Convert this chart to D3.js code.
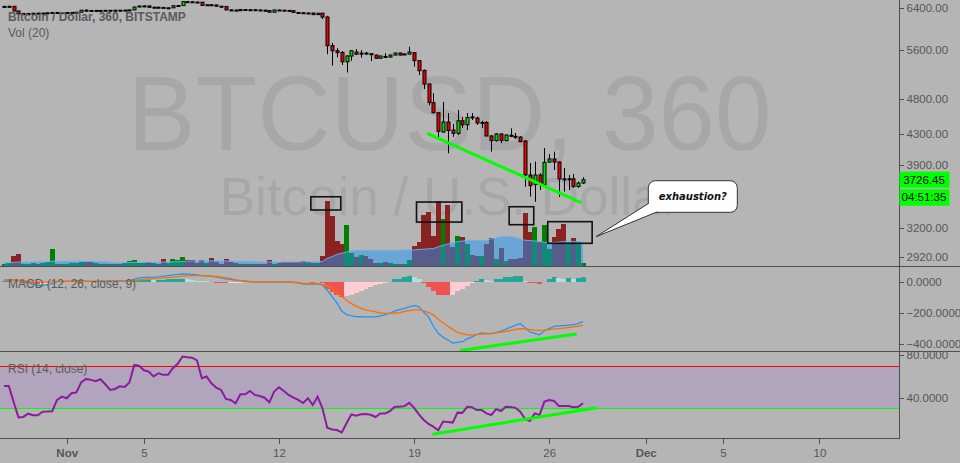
<!DOCTYPE html>
<html><head><meta charset="utf-8">
<script src="https://cdn.jsdelivr.net/npm/d3@7"></script>
<style>html,body{margin:0;padding:0;background:#b5b5b5;overflow:hidden}svg{display:block}</style>
</head><body><svg id="c" width="960" height="463"></svg>
<script>
// ---------------- DATA ----------------
const firstBar = Date.UTC(2018, 9, 28, 18); // first 6h candle (UTC)
const barHours = 6;
const opens = [6420,6425,6428,6334,6278,6282,6284,6290,6286,6292, 6298,6305,6300,6302,6304,6306,6310,6350,6345,6342,
 6346,6344,6348,6346,6350,6348,6352,6356,6414,6434, 6436,6408,6410,6406,6394,6398,6440,6444,6523,6520,
 6515,6512,6445,6460,6455,6430,6425,6356,6352,6340, 6364,6358,6360,6355,6350,6344,6310,6354,6350,6346,
 6340,6305,6300,6290,6294,6262,6290,
 6215,5680,5590,5560,5400,5498,5568,5540,5550,5538, 5515,5460,5490,5480,5515,5550,5530,5533,5555,5420,
 5255,5035,4748,4600,4330,4468,4357,4312,4485,4430, 4540,4524,4455,4460,4276,4213,4303,4213,4285,4272,
 4262,4209,3782,3670,3782,3670,3940,3978,3940,3737, 3733,3737,3648,3688];
const highs = [6440,6440,6432,6340,6290,6290,6295,6296,6298,6300, 6310,6310,6308,6310,6312,6316,6355,6370,6355,6350,
 6352,6352,6354,6352,6356,6356,6362,6420,6445,6445, 6440,6416,6418,6412,6405,6445,6450,6530,6535,6530,
 6522,6518,6470,6466,6460,6438,6430,6365,6360,6368, 6370,6365,6366,6362,6358,6350,6360,6362,6360,6352,
 6345,6312,6310,6300,6298,6295,6296,
 6240,5730,5635,5585,5515,5600,5620,5600,5568,5545, 5520,5505,5548,5520,5555,5555,5545,5660,5568,5430,
 5270,5040,4890,4605,4758,4596,4440,4640,4540,4596, 4596,4545,4485,4480,4289,4316,4310,4295,4380,4316,
 4276,4222,3928,3945,3805,4117,4040,4070,3948,3865, 3782,3795,3705,3755];
const lows = [6410,6415,6330,6270,6270,6272,6278,6282,6280,6285, 6290,6296,6294,6296,6298,6300,6305,6340,6335,6334,
 6336,6338,6340,6338,6342,6340,6345,6350,6410,6425, 6400,6400,6400,6390,6388,6392,6432,6440,6515,6510,
 6508,6440,6440,6450,6425,6420,6350,6345,6330,6335, 6350,6348,6350,6345,6340,6305,6305,6345,6342,6335,
 6300,6295,6284,6280,6255,6255,6175,
 5530,5335,5475,5345,5220,5415,5515,5470,5515,5412, 5450,5450,5475,5470,5510,5510,5525,5520,5320,5179,
 4956,4710,4590,4250,4320,4050,4265,4289,4385,4357, 4496,4426,4385,4270,4070,4200,4180,4205,4260,4236,
 4192,3645,3535,3476,3608,3665,3928,3842,3529,3590, 3608,3632,3632,3677];
const closes = [6425,6428,6334,6278,6282,6284,6290,6286,6292,6298, 6305,6300,6302,6304,6306,6310,6350,6345,6342,6346,
 6344,6348,6346,6350,6348,6352,6356,6414,6434,6436, 6408,6410,6406,6394,6398,6440,6444,6523,6520,6515,
 6512,6445,6460,6455,6430,6425,6356,6352,6340,6364, 6358,6360,6355,6350,6344,6310,6354,6350,6346,6340,
 6305,6300,6290,6294,6262,6290,6215,
 5680,5590,5555,5400,5498,5590,5530,5548,5545,5532, 5460,5498,5486,5515,5550,5515,5533,5568,5420,5250,
 5035,4748,4600,4340,4468,4350,4312,4485,4430,4532, 4535,4454,4462,4276,4213,4303,4213,4289,4280,4266,
 4200,3782,3657,3782,3670,3935,3978,3940,3735,3733, 3737,3648,3688,3726.45];
const volumes = [200,300,1000,1200,250,250,300,250,300,400, 1700,200,200,250,300,300,400,450,400,300,
 250,250,200,250,200,300,500,600,300,300, 450,300,250,700,300,700,600,900,600,600,
 300,600,300,800,400,250,700,450,300,250, 250,250,250,200,250,600,250,300,400,400,
 400,400,500,450,300,300,1000,6500,5000,2500, 2200,4100,1300,900,1100,1000,700,300,300,400,
 300,200,200,250,600,2000,2400,5100,5400,3000, 6500,4700,6100,1900,3000,2900,2200,1100,1000,1000,
 2200,2800,700,1800,500,700,700,800,5300,3400, 3900,2400,4100,1700,2900,3700,4200,2300,2800,2400, 300];
const volumeMA = [330,330,360,400,400,400,410,410,420,420, 480,480,480,470,470,470,470,480,480,460,
 440,420,380,360,340,340,350,370,370,370, 380,380,380,400,400,420,430,460,480,500,
 500,510,510,520,520,510,500,490,470,460, 450,440,430,420,410,410,400,400,400,400,
 400,410,420,420,420,420,450,770,930,1170, 1270,1400,1500,1570,1570,1570,1570,1570,1570,1570,
 1570,1570,1570,1600,1600,1600,1670,1670,1730,1730, 1930,2070,2200,2330,2430,2500,2570,2570,2570,2570,
 2570,2700,2830,2930,2970,2930,2870,2700,2570,2550, 2500,2430,2370,2330,2350,2400,2430,2470,2450,2420, 2400];
const macdLine = [12,12,12,6,6,-5,-16,-22,-25,-18, -11,1,2,3,3,3,4,4,3,3, 4,4,5,5,5,6,6,15,25,28,
 29,30,32,36,40,45,47,50,51,48, 44,40,38,36,30,25,19,15,10,6, 3,0,-1,-2,-2,-2,-2,-2,-2,-3, -4,-6,
 -14,-14,-14,-15,-20,-55,-95,-135,-188,-210, -218,-223,-224,-225,-225,-225,-218,-212,-200,-186,
 -178,-170,-160,-152,-160,-195,-225,-285,-330,-355, -373,-392,-388,-384,-366,-353,-338,-328,-330,-332,
 -325,-316,-305,-290,-280,-268,-295,-322,-330,-340, -314,-300,-286,-283,-280,-278,-274,-268,-255];
const signalLine = [10,10,10,10,10,2,0,-2,-2,-2, -2,3,3,3,3,3,3,3,3,3, 3,3,3,3,3,3,5,8,12,15,
 18,20,23,25,28,30,33,36,38,40, 40,40,38,36,34,30,25,20,14,8, 5,2,0,0,0,0,0,0,0,0, -3,-6,
 -10,-11,-11,-12,-16,-26,-45,-70,-92,-120, -140,-156,-170,-180,-187,-193,-200,-203,-203,-200,
 -197,-190,-185,-180,-180,-186,-197,-212,-240,-262, -285,-305,-325,-333,-340,-340,-337,-335,-333,-332,
 -326,-322,-318,-312,-305,-300,-302,-306,-310,-312, -310,-306,-302,-300,-297,-293,-289,-284,-280];
const macdHist = [2,2,1,-2,-5,-8,-14,-17,-15,-12, -6,-2,2,5,8,10,10,8,6,4, 2,0,0,1,1,2,4,6,9,10,
 10,9,10,12,15,18,20,21,20,12, 8,5,3,0,-5,-8,-10,-10,-8,-5, -3,-1,-1,-1,-1,-1,-1,-1,-1,-2, -4,-5,
 -4,-3,-5,-3,-6,-45,-68,-83,-96,-91, -83,-70,-58,-46,-34,-22,-15,-6,0,15,
 21,28,36,28,15,-6,-32,-60,-85,-86, -87,-85,-62,-49,-28,-6,8,15,10,6,
 15,15.5,28,33,34,35,8,-6,-10,-17, -2,15,28,22,21,22,21,22,28];
const rsiValues = [51,51,36,21.6,22,25,23.5,23.5,26.9,27, 27.3,38,41,39.5,44.2,45,54.4,57.6,56.7,55.5,
 57.3,52.6,47.3,48.2,50.7,50.1,54.2,70.7,70,65.7, 64.4,59.8,62.9,61.4,61.4,67.6,71.7,78.5,77.9,77.5,
 75,58.2,59.8,53.5,49.4,47.3,38.8,37.9,34.8,43.2, 43.2,46.3,42.6,41.6,40,35.7,45.7,49.7,46.3,42.6, 40,37.9,
 35,39.5,33.2,41,30.1,11.9,10.3,9.7,7.5,16, 24.4,23.1,24.4,24.7,24,21.9,25.3,25.3,27.5,31.5,
 31.5,32.1,35.2,30.5,24.4,19.1,15.4,12.9,9.5,17.6, 17.2,16.7,26,25.8,31.5,31,28.4,28.4,25.3,23.8,
 29.3,27.5,31.5,31.3,30.5,26.8,20,18.2,25.3,23.8, 36.4,37.9,37,32.3,32.3,32.3,31,31.5,34.8];
const priceTicks = [2920, 3200, 3900, 4300, 4800, 5600, 6400];
const macdTicks = [0, -200, -400];
const rsiTicks = [40, 80];
const rsiBands = [70, 30];
const dateTickDays = ["2018-11-01","2018-11-05","2018-11-12","2018-11-19","2018-11-26","2018-12-01","2018-12-05","2018-12-10"];
const dateTickLabels = ["Nov","5","12","19","26","Dec","5","10"];
const lastPrice = 3726.45, countdown = "04:51:35";
// drawings (bar index, value)
const priceTrend = [[87.7, 4312], [119.7, 3466]];
const macdTrend = [[94.5, -441], [118.7, -335]];
const rsiTrend = [[88.8, 5.7], [122.8, 30.6]];
const boxes = [[63.6, 69.8, 3532, 3388], [85.5, 94.9, 3474, 3262], [104.7, 109.8, 3423, 3235], [112.7, 121.9, 3266, 3051]];
const calloutAnchor = [122.7, 3115];
const calloutText = "exhaustion?";

// ---------------- LAYOUT ----------------
const svg = d3.select("#c");
const PR = 899;                 // right edge of plot area
const pricePane = [0, 266], macdPane = [266, 351.5], rsiPane = [351.5, 438];
const bg = "#b5b5b5", lineCol = "#4e4e4e", textCol = "#555";
const FONT = "'Liberation Sans', Arial, sans-serif";
const snap = v => Math.round(v) + 0.5;

const t = i => new Date(firstBar + i * barHours * 3600e3);
const x = d3.scaleUtc().domain([Date.UTC(2018,10,1), Date.UTC(2018,11,1)]).range([66.7, 645.7]);
const xb = i => x(t(i));
const barW = xb(1) - xb(0);
const yP = d3.scaleLog().domain([2850, 6557]).range([265, 0]);
const yV = d3.scaleLinear().domain([0, 26600]).range([266, 0]);
const yM = d3.scaleLinear().domain([0, -200]).range([281.8, 313]);
const yR = d3.scaleLinear().domain([40, 80]).range([397.7, 355]);

svg.append("rect").attr("width", 960).attr("height", 463).attr("fill", bg);
const defs = svg.append("defs");
[["cp", pricePane], ["cm", macdPane], ["cr", rsiPane]].forEach(([id, p]) => {
  defs.append("clipPath").attr("id", id).append("rect").attr("x", 0).attr("y", p[0]).attr("width", PR).attr("height", p[1] - p[0]);
});

// ---------------- PRICE PANE ----------------
const gP = svg.append("g").attr("clip-path", "url(#cp)");
gP.append("text").attr("x", 449.5).attr("y", 150).attr("text-anchor", "middle")
  .attr("font-family", FONT).attr("font-size", 106).attr("fill", "rgba(0,0,0,0.075)")
  .attr("textLength", 644).attr("lengthAdjust", "spacingAndGlyphs").text("BTCUSD, 360");
gP.append("text").attr("x", 449.5).attr("y", 215).attr("text-anchor", "middle")
  .attr("font-family", FONT).attr("font-size", 53).attr("fill", "rgba(0,0,0,0.075)")
  .text("Bitcoin / U.S. Dollar");

const idx = d3.range(opens.length);
// volume bars
gP.append("g").attr("shape-rendering", "crispEdges").selectAll("rect").data(idx).join("rect")
  .attr("x", i => xb(i) - barW / 2).attr("width", barW + 0.2)
  .attr("y", i => yV(volumes[i])).attr("height", i => yV(0) - yV(volumes[i]))
  .attr("fill", i => closes[i] >= opens[i] ? "#007f00" : "#8b2222");
// volume MA area
gP.append("path").datum(idx)
  .attr("d", d3.area().x(i => xb(i)).y0(yV(0)).y1(i => yV(volumeMA[i])))
  .attr("fill", "rgba(33,150,243,0.5)");
gP.append("path").datum(idx)
  .attr("d", d3.line().x(i => xb(i)).y(i => yV(volumeMA[i])))
  .attr("fill", "none").attr("stroke", "rgba(110,180,235,0.9)").attr("stroke-width", 1);

// candles
const gc = gP.append("g");
idx.forEach(i => {
  const cx = Math.round(xb(i));
  gc.append("line").attr("x1", cx + 0.5).attr("x2", cx + 0.5)
    .attr("y1", yP(highs[i])).attr("y2", yP(lows[i])).attr("stroke", "#000").attr("stroke-width", 1);
  const y0 = yP(Math.max(opens[i], closes[i])), y1 = yP(Math.min(opens[i], closes[i]));
  const h = Math.max(1, y1 - y0);
  gc.append("rect").attr("x", cx - 1).attr("y", y0).attr("width", 3).attr("height", h)
    .attr("fill", closes[i] >= opens[i] ? "#00dd00" : "#ee0000").attr("stroke", "#000").attr("stroke-width", 1);
});

// trend line
gP.append("line").attr("x1", xb(priceTrend[0][0])).attr("y1", yP(priceTrend[0][1]))
  .attr("x2", xb(priceTrend[1][0])).attr("y2", yP(priceTrend[1][1]))
  .attr("stroke", "#00ff00").attr("stroke-width", 3);
// boxes
gP.append("g").selectAll("rect").data(boxes).join("rect")
  .attr("x", d => xb(d[0])).attr("y", d => yP(d[2]))
  .attr("width", d => xb(d[1]) - xb(d[0])).attr("height", d => yP(d[3]) - yP(d[2]))
  .attr("fill", "none").attr("stroke", "#111").attr("stroke-width", 1.6);

// callout
{
  const ax = xb(calloutAnchor[0]), ay = yP(calloutAnchor[1]);
  const bx = ax + 52.3, by = ay - 56, bw = 89, bh = 31.6;
  const g = svg.append("g");
  g.append("rect").attr("x", bx).attr("y", by).attr("width", bw).attr("height", bh).attr("rx", 7)
    .attr("fill", "#fff").attr("stroke", "#333").attr("stroke-width", 1);
  const p1 = [bx + 0.5, by + 22.5], p2 = [bx + 9, by + bh - 0.5];
  g.append("path").attr("d", `M${ax},${ay}L${p1[0]},${p1[1]}L${p2[0]},${p2[1]}Z`).attr("fill", "#fff");
  g.append("path").attr("d", `M${p1[0]},${p1[1]}L${ax},${ay}L${p2[0]},${p2[1]}`)
    .attr("fill", "none").attr("stroke", "#333").attr("stroke-width", 1);
  g.append("text").attr("x", bx + bw / 2).attr("y", by + 19.5).attr("text-anchor", "middle")
    .attr("font-family", "'DejaVu Sans', Verdana, sans-serif").attr("font-size", 10)
    .attr("font-weight", "bold").attr("font-style", "italic").attr("fill", "#111").text(calloutText);
}

// ---------------- MACD PANE ----------------
const gM = svg.append("g").attr("clip-path", "url(#cm)");
gM.append("g").attr("shape-rendering", "crispEdges").selectAll("rect").data(idx).join("rect")
  .attr("x", i => xb(i) - barW / 2).attr("width", barW + 0.2)
  .attr("y", i => Math.min(yM(0), yM(macdHist[i])))
  .attr("height", i => Math.abs(yM(macdHist[i]) - yM(0)))
  .attr("fill", i => {
    const h = macdHist[i], p = i ? macdHist[i - 1] : h;
    return h >= 0 ? (h >= p ? "#26a69a" : "#b2dfdb") : (h < p ? "#ef5350" : "#ffcdd2");
  });
gM.append("path").datum(idx).attr("d", d3.line().x(xb).y(i => yM(macdLine[i])))
  .attr("fill", "none").attr("stroke", "#2196f3").attr("stroke-width", 1.3);
gM.append("path").datum(idx).attr("d", d3.line().x(xb).y(i => yM(signalLine[i])))
  .attr("fill", "none").attr("stroke", "#ff6d00").attr("stroke-width", 1.3);
gM.append("line").attr("x1", xb(macdTrend[0][0])).attr("y1", yM(macdTrend[0][1]))
  .attr("x2", xb(macdTrend[1][0])).attr("y2", yM(macdTrend[1][1]))
  .attr("stroke", "#00ff00").attr("stroke-width", 3);

// ---------------- RSI PANE ----------------
const gR = svg.append("g").attr("clip-path", "url(#cr)");
const bTop = snap(yR(rsiBands[0])), bBot = snap(yR(rsiBands[1]));
gR.append("rect").attr("x", 0).attr("width", PR).attr("y", bTop).attr("height", bBot - bTop).attr("fill", "#b1a5be");
gR.append("line").attr("x1", 0).attr("x2", PR).attr("y1", bTop).attr("y2", bTop).attr("stroke", "#ff0000").attr("stroke-width", 1);
gR.append("line").attr("x1", 0).attr("x2", PR).attr("y1", bBot).attr("y2", bBot).attr("stroke", "#00ff00").attr("stroke-width", 1);
gR.append("path").datum(idx).attr("d", d3.line().x(xb).y(i => yR(rsiValues[i])))
  .attr("fill", "none").attr("stroke", "#8e1aa0").attr("stroke-width", 2);
gR.append("line").attr("x1", xb(rsiTrend[0][0])).attr("y1", yR(rsiTrend[0][1]))
  .attr("x2", xb(rsiTrend[1][0])).attr("y2", yR(rsiTrend[1][1]))
  .attr("stroke", "#00ff00").attr("stroke-width", 3);

// ---------------- LEGENDS ----------------
const legend = (txt, y, bold) => svg.append("text").attr("x", 8).attr("y", y).attr("font-family", FONT)
  .attr("font-size", 12).attr("font-weight", bold ? "bold" : "normal").attr("fill", "#5a5a5a").text(txt);
legend("Bitcoin / Dollar, 360, BITSTAMP", 20.5, true);
legend("Vol (20)", 37, false);
legend("MACD (12, 26, close, 9)", 288, false);
legend("RSI (14, close)", 372.5, false);

// ---------------- FRAME & AXES ----------------
const fr = svg.append("g").attr("stroke", lineCol).attr("stroke-width", 1).attr("shape-rendering", "crispEdges");
fr.append("line").attr("x1", 0).attr("x2", 960).attr("y1", 266.5).attr("y2", 266.5);
fr.append("line").attr("x1", 0).attr("x2", 960).attr("y1", 351.5).attr("y2", 351.5);
fr.append("line").attr("x1", PR + 0.5).attr("x2", PR + 0.5).attr("y1", 0).attr("y2", 438.5);
fr.append("line").attr("x1", 0).attr("x2", PR + 0.5).attr("y1", 438.5).attr("y2", 438.5);

function styleAxis(g) {
  g.select(".domain").remove();
  g.selectAll("line").attr("stroke", lineCol).attr("shape-rendering", "crispEdges");
  g.selectAll("text").attr("fill", textCol).attr("font-family", FONT).attr("font-size", 11.5);
}
svg.append("g").attr("transform", `translate(${PR + 0.5},0)`)
  .call(d3.axisRight(yP).tickValues(priceTicks).tickFormat(d3.format(".2f")).tickSize(4).tickPadding(3)).call(styleAxis);
svg.append("g").attr("transform", `translate(${PR + 0.5},0)`)
  .call(d3.axisRight(yM).tickValues(macdTicks).tickFormat(d3.format(".4f")).tickSize(4).tickPadding(3)).call(styleAxis);
svg.append("g").attr("transform", `translate(${PR + 0.5},0)`)
  .call(d3.axisRight(yR).tickValues(rsiTicks).tickFormat(d3.format(".4f")).tickSize(4).tickPadding(3)).call(styleAxis);
const dates = dateTickDays.map(s => new Date(s + "T00:00:00Z"));
const xa = svg.append("g").attr("transform", "translate(0,438.5)")
  .call(d3.axisBottom(x).tickValues(dates).tickFormat((d, i) => dateTickLabels[i]).tickSize(5).tickPadding(5)).call(styleAxis);
xa.selectAll("text").attr("font-size", 11.5).attr("font-weight", (d, i) => isNaN(+dateTickLabels[i]) ? "bold" : "normal");

// last price & countdown labels
const lp = yP(lastPrice);
svg.append("rect").attr("x", PR + 0.5).attr("y", lp - 8).attr("width", 50).attr("height", 16).attr("fill", "#00ff00");
svg.append("text").attr("x", PR + 25).attr("y", lp + 4).attr("text-anchor", "middle").attr("font-family", FONT)
  .attr("font-size", 11.5).attr("fill", "#000").text(d3.format(".2f")(lastPrice));
svg.append("rect").attr("x", PR + 0.5).attr("y", lp + 9.5).attr("width", 50).attr("height", 16.5).attr("fill", "#00ff00");
svg.append("text").attr("x", PR + 25).attr("y", lp + 21.5).attr("text-anchor", "middle").attr("font-family", FONT)
  .attr("font-size", 11.5).attr("fill", "#000").text(countdown);
</script></body></html>
